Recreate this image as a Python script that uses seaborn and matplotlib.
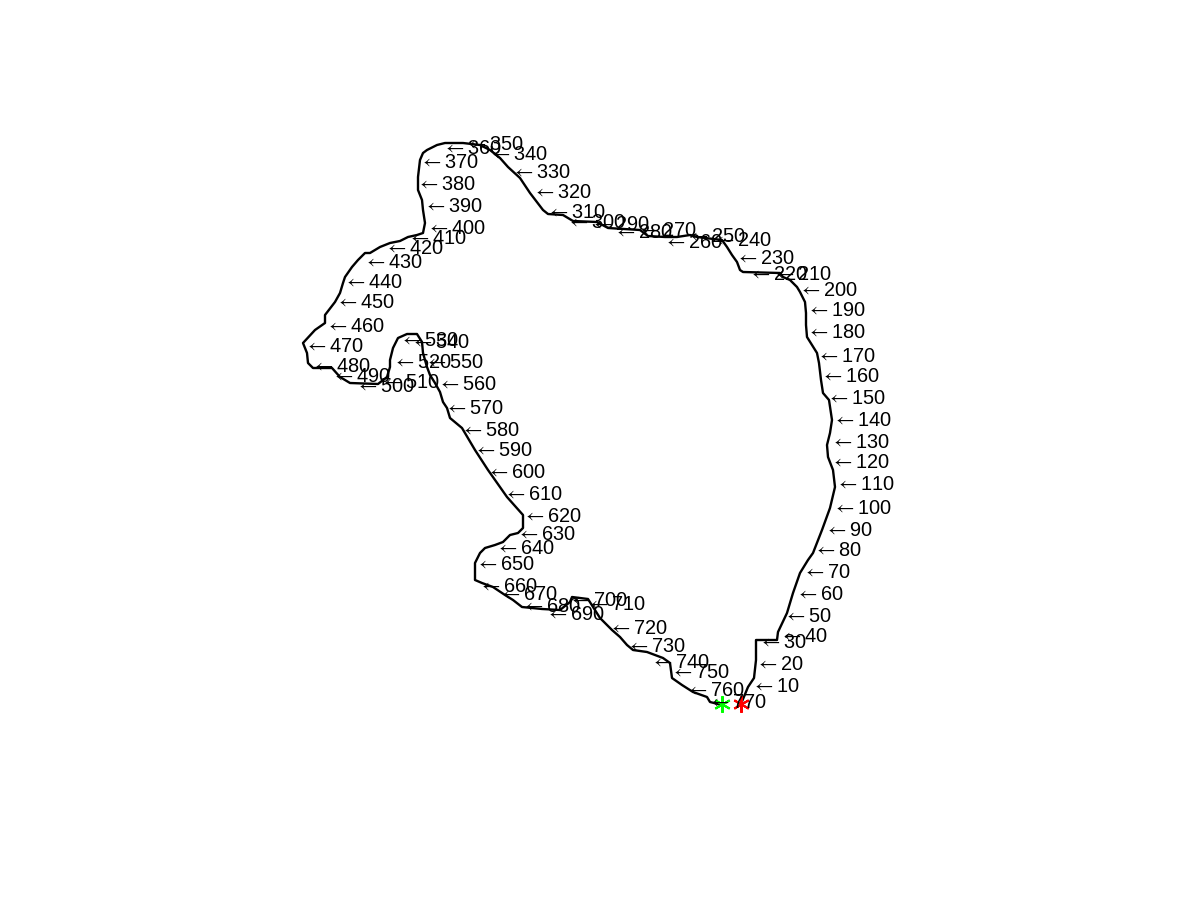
import matplotlib
matplotlib.use("Agg")
import matplotlib.pyplot as plt
import seaborn as sns
import pandas as pd

# Boundary trace (image pixel coordinates, y downward)
boundary_x = [741, 748, 754, 756, 756, 777, 778, 787, 793, 800, 808, 813, 822, 830, 835, 833, 828,
              827, 830, 832, 829, 823, 821, 819, 817, 807, 806, 806, 805, 800, 797, 790, 783, 780,
              743, 740, 737, 732, 727, 722, 697, 690, 677, 665, 648, 640, 608, 597, 573, 563, 548,
              543, 530, 520, 508, 500, 490, 480, 463, 445, 437, 427, 423, 420, 418, 418, 422, 423,
              425, 423, 417, 408, 400, 390, 380, 370, 365, 358, 352, 345, 343, 340, 335, 325, 325,
              315, 303, 307, 308, 313, 332, 340, 350, 378, 387, 390, 390, 393, 398, 407, 417, 422,
              423, 427, 430, 435, 440, 443, 447, 450, 462, 475, 488, 507, 523, 523, 518, 510, 503,
              495, 485, 480, 475, 475, 482, 493, 505, 513, 522, 542, 560, 570, 572, 588, 595, 600,
              612, 620, 627, 633, 647, 663, 670, 672, 682, 693, 707, 710, 722]
boundary_y = [704, 687, 678, 660, 640, 640, 632, 613, 593, 573, 560, 553, 530, 508, 487, 470, 457,
              445, 433, 420, 400, 393, 380, 363, 353, 337, 325, 313, 302, 292, 287, 280, 277, 273,
              272, 270, 262, 255, 247, 240, 237, 235, 237, 237, 236, 230, 228, 222, 221, 215, 214,
              210, 193, 178, 167, 158, 150, 145, 143, 143, 145, 150, 153, 160, 177, 190, 200, 210,
              223, 233, 235, 237, 241, 243, 247, 253, 253, 260, 267, 277, 283, 293, 302, 315, 323,
              330, 343, 353, 363, 368, 368, 377, 383, 384, 377, 367, 360, 348, 338, 334, 334, 342,
              353, 367, 375, 383, 392, 402, 408, 418, 428, 450, 470, 497, 515, 528, 533, 535, 542,
              545, 548, 553, 563, 580, 583, 587, 595, 600, 607, 609, 610, 602, 597, 599, 610, 618,
              630, 637, 645, 650, 652, 658, 663, 678, 685, 692, 697, 702, 705]

# Every 10th boundary point, labelled with its index
label_n = list(range(10, 780, 10))
label_x = [751, 755, 758, 779, 783, 795, 802, 813, 824, 832, 835, 830, 830, 832, 826, 820, 816,
           806, 806, 798, 772, 748, 735, 712, 686, 663, 637, 613, 590, 566, 546, 532, 511, 488,
           464, 442, 419, 416, 423, 426, 407, 384, 363, 343, 335, 325, 304, 311, 331, 355, 380,
           392, 399, 410, 424, 437, 444, 460, 473, 486, 503, 522, 516, 495, 475, 478, 498, 521,
           545, 568, 586, 608, 626, 650, 670, 685, 707]
label_y = [686, 665, 643, 637, 617, 594, 573, 551, 530, 508, 485, 463, 442, 421, 398, 377, 356,
           333, 311, 290, 275, 274, 258, 241, 236, 242, 231, 232, 224, 222, 213, 192, 172, 154,
           145, 148, 163, 185, 207, 228, 238, 249, 262, 283, 303, 326, 346, 367, 377, 386, 383,
           362, 341, 343, 363, 385, 409, 431, 451, 473, 495, 516, 535, 549, 564, 586, 595, 607,
           614, 600, 605, 628, 647, 662, 672, 690, 702]

start_pt = (741, 704)
end_pt = (722, 704)

sns.set_theme(style="white")
plt.rcParams['font.family'] = ['Liberation Sans', 'DejaVu Sans']
plt.rcParams['mathtext.fontset'] = 'stix'

fig = plt.figure(figsize=(12, 9), dpi=100)
ax = fig.add_axes([0, 0, 1, 1])

df = pd.DataFrame({"x": boundary_x, "y": boundary_y})
sns.lineplot(data=df, x="x", y="y", sort=False, estimator=None, color="black",
             linewidth=1.7, ax=ax)

for n, x, y in zip(label_n, label_x, label_y):
    ax.text(x + 1, y, r"$\leftarrow$" + f"{n}", ha="left", va="center", fontsize=14.4,
            color="black")

ax.plot([end_pt[0]], [end_pt[1]], linestyle="none", marker=(6, 2, 0),
        markersize=12, markeredgewidth=1.5, color="#00ff00")
ax.plot([start_pt[0]], [start_pt[1]], linestyle="none", marker=(6, 2, 0),
        markersize=12, markeredgewidth=1.5, color="#ff0000")

ax.set_xlim(0, 1200)
ax.set_ylim(900, 0)
ax.set_axis_off()
fig.savefig("out.png", dpi=100, facecolor="white")
